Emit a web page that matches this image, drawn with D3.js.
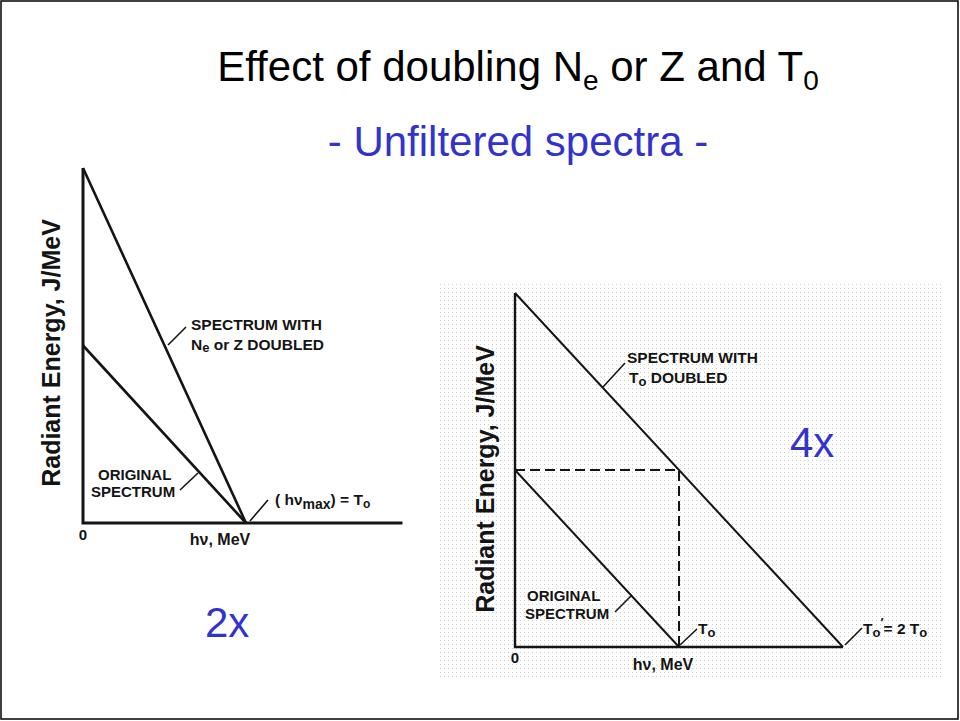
<!DOCTYPE html>
<html>
<head>
<meta charset="utf-8">
<script src="https://cdn.jsdelivr.net/npm/d3@7"></script>
<style>
  html, body { margin: 0; padding: 0; background: #fff; }
  svg { display: block; }
</style>
</head>
<body>
<svg id="chart" width="960" height="721"></svg>
<script>
// ---------- data ----------
// Left panel: effect of doubling Ne or Z (x in units of T0, y in units of original intercept)
const leftOriginal = [{x: 0, y: 1}, {x: 1, y: 0}];
const leftDoubled  = [{x: 0, y: 2}, {x: 1, y: 0}];
const leftXAxisMax = 1.96;
const leftYAxisMax = 2;

// Right panel: effect of doubling T0
const rightOriginal = [{x: 0, y: 1}, {x: 1, y: 0}];
const rightDoubled  = [{x: 0, y: 2}, {x: 2, y: 0}];
const rightDashed   = [{x: 0, y: 1}, {x: 1, y: 1}, {x: 1, y: 0}];
const rightXAxisMax = 2;
const rightYAxisMax = 2;

const factorLabels = ["2x", "4x"];
const axisLabelY = "Radiant Energy,  J/MeV";
const axisLabelX = "hν, MeV";
const originLabel = "0";

// ---------- drawing ----------
const svg = d3.select("#chart");
const ink = "#141414";
const blue = "#3333cc";
const sans = "'Liberation Sans', Arial, Helvetica, sans-serif";

// slide frame
svg.append("rect").attr("x", 1).attr("y", 1).attr("width", 957).attr("height", 718)
  .attr("fill", "#fff").attr("stroke", "#000").attr("stroke-width", 1.5);

// dotted background of right picture
const defs = svg.append("defs");
const pat = defs.append("pattern").attr("id", "dots").attr("width", 4).attr("height", 4)
  .attr("patternUnits", "userSpaceOnUse");
pat.append("rect").attr("x", 0).attr("y", 0).attr("width", 1).attr("height", 1).attr("fill", "#cdcdcd");
svg.append("rect").attr("x", 437).attr("y", 283).attr("width", 506).attr("height", 394)
  .attr("fill", "url(#dots)");

// Title
const title = svg.append("text").attr("x", 518).attr("y", 81).attr("text-anchor", "middle")
  .attr("font-family", sans).attr("font-size", 42).attr("fill", "#000");
title.append("tspan").text("Effect of doubling N");
title.append("tspan").attr("font-size", 28).attr("dy", 9).text("e");
title.append("tspan").attr("dy", -9).text(" or Z and T");
title.append("tspan").attr("font-size", 28).attr("dy", 9).text("0");

svg.append("text").attr("x", 518).attr("y", 156).attr("text-anchor", "middle")
  .attr("font-family", sans).attr("font-size", 42).attr("fill", blue)
  .text("- Unfiltered spectra -");

function panel(cfg) {
  const g = svg.append("g");
  const x = d3.scaleLinear().domain([0, 1]).range(cfg.xr);
  const y = d3.scaleLinear().domain([0, cfg.yMax]).range(cfg.yr);
  const line = d3.line().x(d => x(d.x)).y(d => y(d.y));

  // axes drawn through the scales
  g.append("path").attr("d", line([{x: 0, y: cfg.yMax}, {x: 0, y: 0}, {x: cfg.xMax, y: 0}]))
    .attr("fill", "none").attr("stroke", ink).attr("stroke-width", cfg.axisW)
    .attr("stroke-linejoin", "miter");

  cfg.series.forEach(s => {
    g.append("path").attr("d", line(s.data)).attr("fill", "none")
      .attr("stroke", ink).attr("stroke-width", cfg.lineW)
      .attr("stroke-dasharray", s.dash || null);
  });

  // origin & x label
  g.append("text").attr("x", x(0)).attr("y", y(0) + cfg.zeroDy).attr("text-anchor", "middle")
    .attr("font-family", sans).attr("font-weight", "bold").attr("font-size", 15).attr("fill", ink)
    .text(originLabel);
  g.append("text").attr("x", cfg.xLabelX).attr("y", y(0) + cfg.xLabelDy).attr("text-anchor", "middle")
    .attr("font-family", sans).attr("font-weight", "bold").attr("font-size", 16).attr("fill", ink)
    .text(axisLabelX);
  // y label
  g.append("text").attr("transform", `translate(${cfg.yLabelX},${cfg.yLabelY}) rotate(-90)`)
    .attr("text-anchor", "middle").attr("font-family", sans).attr("font-weight", "bold")
    .attr("font-size", 25).attr("fill", ink).text(axisLabelY);
  return {g, x, y};
}

const L = panel({
  xr: [83, 246], yr: [523, 168], yMax: leftYAxisMax, xMax: leftXAxisMax,
  axisW: 3, lineW: 2.6, zeroDy: 17, xLabelX: 220, xLabelDy: 22, yLabelX: 60, yLabelY: 353,
  series: [{data: leftOriginal}, {data: leftDoubled}]
});

const R = panel({
  xr: [515, 679], yr: [647, 293], yMax: rightYAxisMax, xMax: rightXAxisMax,
  axisW: 2.4, lineW: 2, zeroDy: 16, xLabelX: 663, xLabelDy: 23, yLabelX: 494, yLabelY: 479,
  series: [{data: rightOriginal}, {data: rightDoubled}, {data: rightDashed, dash: "10,5"}]
});

// annotations (leader lines + text)
function leader(x1, y1, x2, y2, w) {
  svg.append("line").attr("x1", x1).attr("y1", y1).attr("x2", x2).attr("y2", y2)
    .attr("stroke", ink).attr("stroke-width", w || 1.6);
}
function label(xp, yp, parts, size) {
  const t = svg.append("text").attr("x", xp).attr("y", yp).attr("font-family", sans)
    .attr("font-weight", "bold").attr("font-size", size || 15.5).attr("fill", ink);
  parts.forEach(p => {
    const ts = t.append("tspan").text(p.t);
    if (p.dy) ts.attr("dy", p.dy);
    if (p.fs) ts.attr("font-size", p.fs);
  });
  return t;
}

// left panel labels
leader(168, 345, 186, 327);
label(191, 330, [{t: "SPECTRUM WITH"}]);
label(191, 350, [{t: "N"}, {t: "e", fs: 13, dy: 2}, {t: " or Z DOUBLED", dy: -2}]);
leader(180, 490, 198, 473);
label(98, 480, [{t: "ORIGINAL"}], 15);
label(91, 497, [{t: "SPECTRUM"}], 15);
leader(250, 521, 268, 500);
label(275, 505, [{t: "( hν"}, {t: "max", fs: 14, dy: 4}, {t: ") = T", dy: -4}, {t: "o", fs: 12, dy: 3}]);

// right panel labels
leader(603, 387, 625, 363);
label(627, 363, [{t: "SPECTRUM WITH"}]);
label(629, 383, [{t: "T"}, {t: "o", fs: 13, dy: 3}, {t: " DOUBLED", dy: -3}]);
leader(615, 612, 632, 595);
label(527, 601, [{t: "ORIGINAL"}], 15);
label(525, 619, [{t: "SPECTRUM"}], 15);
leader(680, 645, 697, 629);
label(698, 634, [{t: "T"}, {t: "o", fs: 13, dy: 3}]);
leader(845, 645, 862, 628);
label(863, 634, [{t: "T"}, {t: "o", fs: 13, dy: 3}, {t: "′", fs: 13, dy: -10}, {t: "= 2 T", dy: 7}, {t: "o", fs: 13, dy: 3}]);

// factor labels
svg.append("text").attr("x", 205).attr("y", 637).attr("font-family", sans).attr("font-size", 42)
  .attr("fill", blue).text(factorLabels[0]);
svg.append("text").attr("x", 790).attr("y", 457).attr("font-family", sans).attr("font-size", 42)
  .attr("fill", blue).text(factorLabels[1]);
</script>
</body>
</html>
